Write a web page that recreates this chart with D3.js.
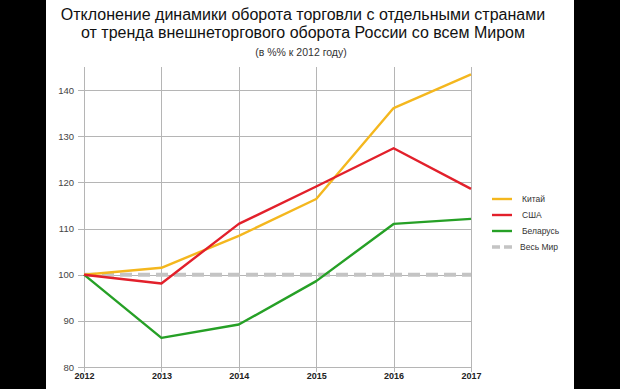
<!DOCTYPE html>
<html>
<head>
<meta charset="utf-8">
<script src="https://cdn.jsdelivr.net/npm/d3@7"></script>
<style>
  html, body { margin: 0; padding: 0; background: #000; }
  svg { display: block; }
</style>
</head>
<body>
<div id="chart"></div>
<script>
// data
const years = [2012, 2013, 2014, 2015, 2016, 2017];
const china = [100, 101.5, 108.4, 116.4, 136.1, 143.4];
const usa = [100, 98.1, 111.0, 119.1, 127.4, 118.6];
const belarus = [100, 86.3, 89.2, 98.6, 111.0, 112.1];
const world = [100, 100, 100, 100, 100, 100];
const yTicks = [80, 90, 100, 110, 120, 130, 140];

const seriesNames = ["Китай", "США", "Беларусь", "Весь Мир"];
const seriesValues = [china, usa, belarus, world];
const seriesColors = ["#f4b71e", "#e2202b", "#26a026", "#c4c4c4"];

const w = 620, h = 389;
const m = { top: 67, left: 84, right: 149, bottom: 22 };

const svg = d3.select("#chart").append("svg")
  .attr("width", w).attr("height", h)
  .attr("viewBox", [0, 0, w, h]);

// black frame, white sheet
svg.append("rect").attr("width", w).attr("height", h).attr("fill", "#000");
svg.append("rect").attr("x", 46).attr("width", 528).attr("height", h).attr("fill", "#fff");

const x = d3.scaleLinear().domain([2012, 2017]).range([m.left, w - m.right]);
const y = d3.scaleLinear().domain([80, 145]).range([h - m.bottom, m.top]);

// title
const title = svg.append("g").attr("font-family", "Liberation Sans, Arial, sans-serif")
  .attr("text-anchor", "middle").attr("fill", "#111");
title.append("text").attr("x", 303).attr("y", 20).attr("font-size", 16)
  .text("Отклонение динамики оборота торговли с отдельными странами");
title.append("text").attr("x", 303).attr("y", 38).attr("font-size", 16)
  .text("от тренда внешнеторгового оборота России со всем Миром");
title.append("text").attr("x", 301).attr("y", 56).attr("font-size", 10.5)
  .attr("fill", "#333")
  .text("(в %% к 2012 году)");

// grid
const grid = svg.append("g").attr("stroke", "#b5b5b5").attr("stroke-width", 1);
grid.selectAll("line.h").data(yTicks).join("line")
  .attr("x1", m.left - 6).attr("x2", x(2017))
  .attr("y1", (d) => Math.round(y(d)) + 0.5).attr("y2", (d) => Math.round(y(d)) + 0.5);
grid.selectAll("line.v").data(years).join("line")
  .attr("x1", (d) => Math.round(x(d)) + 0.5).attr("x2", (d) => Math.round(x(d)) + 0.5)
  .attr("y1", y(145)).attr("y2", y(80) + 5);

// axes labels
const yAxis = svg.append("g")
  .attr("transform", `translate(${m.left},0)`)
  .call(d3.axisLeft(y).tickValues(yTicks).tickSize(0).tickPadding(10));
yAxis.select(".domain").remove();
yAxis.selectAll("text").attr("font-family", "Liberation Sans, Arial, sans-serif")
  .attr("font-size", 9.5).attr("fill", "#444");

const xAxis = svg.append("g")
  .attr("transform", `translate(0,${y(80)})`)
  .call(d3.axisBottom(x).tickValues(years).tickFormat(d3.format("d")).tickSize(0).tickPadding(6));
xAxis.select(".domain").remove();
xAxis.selectAll("text").attr("font-family", "Liberation Sans, Arial, sans-serif")
  .attr("font-size", 9).attr("font-weight", "bold").attr("fill", "#222");

// lines
const line = d3.line().x((d, i) => x(years[i])).y((d) => y(d));
const order = [3, 2, 0, 1];
svg.append("g").selectAll("path").data(order).join("path")
  .attr("d", (k) => line(seriesValues[k]))
  .attr("fill", "none")
  .attr("stroke", (k) => seriesColors[k])
  .attr("stroke-width", (k) => (k === 3 ? 4 : 2.4))
  .attr("stroke-dasharray", (k) => (k === 3 ? "12,6" : null))
  .attr("stroke-linejoin", "round");

// legend
const legend = svg.append("g").attr("font-family", "Liberation Sans, Arial, sans-serif");
const ly = d3.scalePoint().domain(seriesNames).range([199, 247]);
legend.selectAll("line").data(seriesNames).join("line")
  .attr("x1", 492).attr("x2", 512)
  .attr("y1", (d) => ly(d)).attr("y2", (d) => ly(d))
  .attr("stroke", (d, i) => seriesColors[i])
  .attr("stroke-width", (d, i) => (i === 3 ? 3.5 : 2.4))
  .attr("stroke-dasharray", (d, i) => (i === 3 ? "8,4" : null));
legend.selectAll("text").data(seriesNames).join("text")
  .attr("x", (d, i) => (i === 3 ? 520 : 522)).attr("y", (d) => ly(d) + 3)
  .attr("font-size", 8.5).attr("fill", "#333")
  .text((d) => d);
</script>
</body>
</html>
